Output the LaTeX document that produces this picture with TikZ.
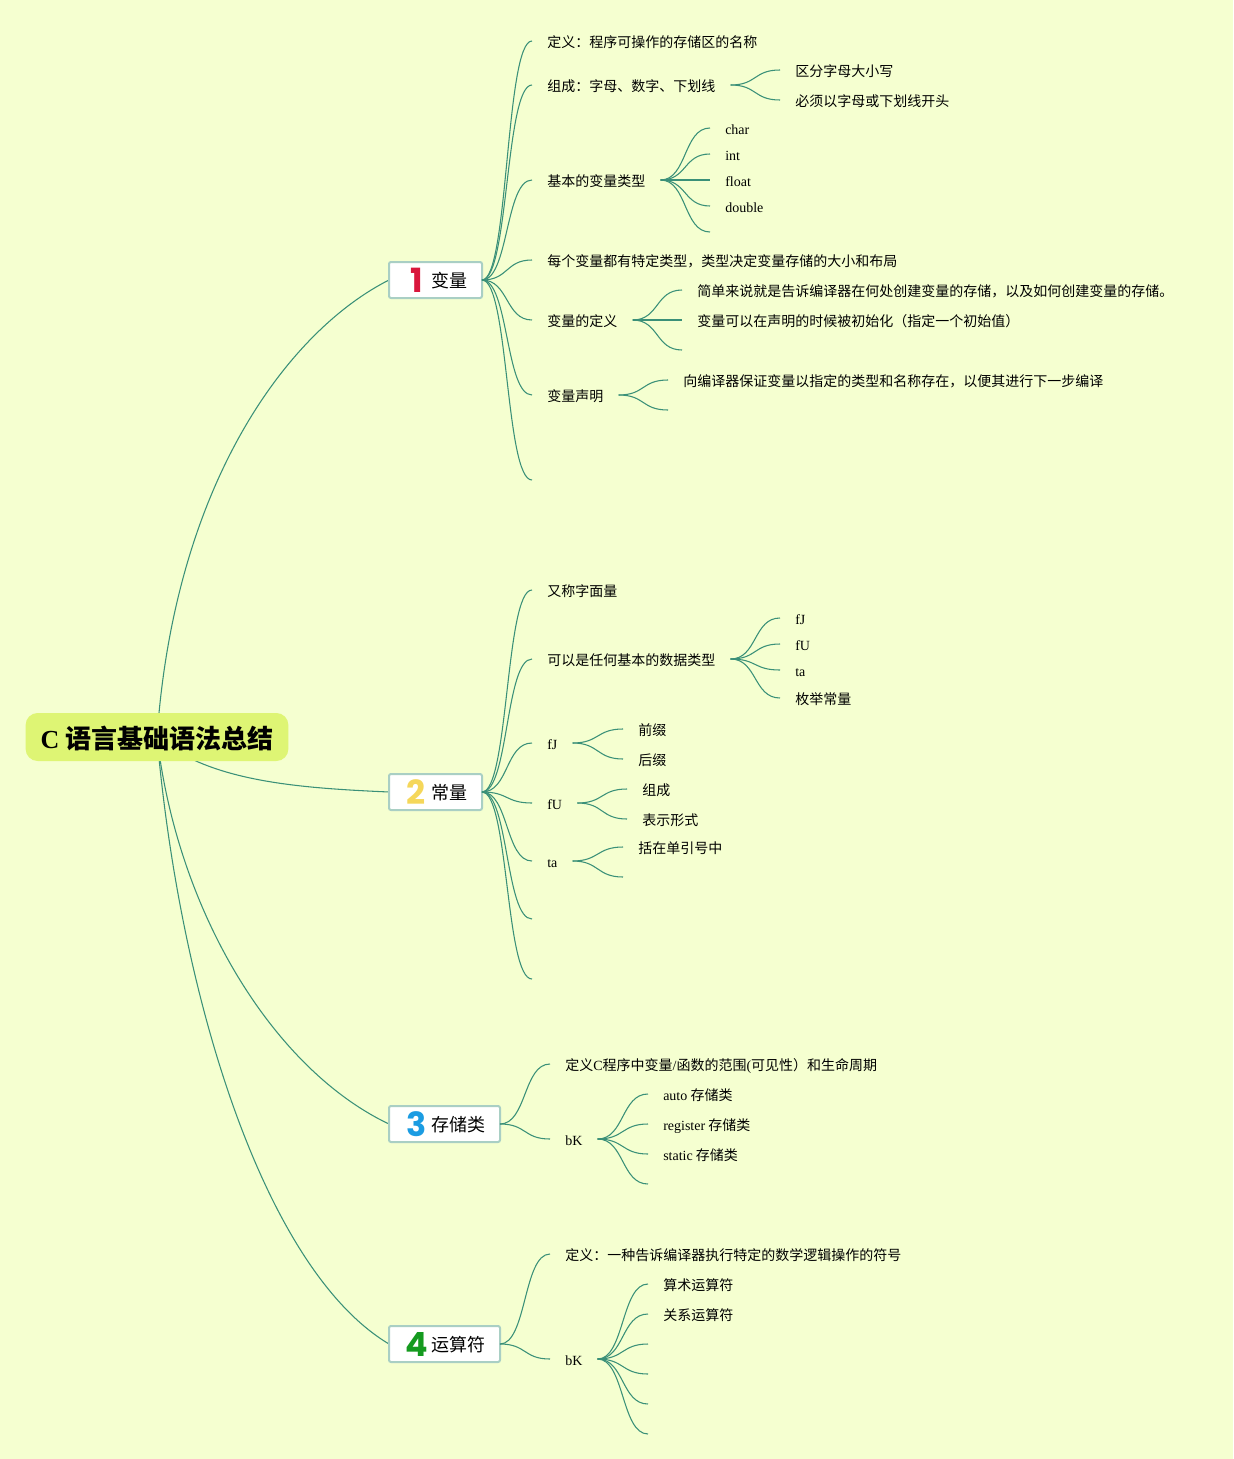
\documentclass[tikz,border=0pt]{standalone}
\usepackage{fontspec}
\setmainfont{Noto Sans CJK SC}
\newfontfamily\lat{Liberation Serif}
\newfontfamily\numfont{Poppins}
\usetikzlibrary{backgrounds}
\definecolor{pagebg}{HTML}{F5FFD0}
\definecolor{rootbg}{HTML}{DEF574}
\definecolor{linkcol}{HTML}{3A9078}
\definecolor{boxline}{HTML}{A9CFC4}
\definecolor{numred}{HTML}{D9173C}
\definecolor{numyellow}{HTML}{F5D75A}
\definecolor{numblue}{HTML}{1B9CE2}
\definecolor{numgreen}{HTML}{159A1F}
\newcommand{\numicon}[2]{\hspace*{1pt}\makebox[16.5pt][c]{\raisebox{-4pt}{\numfont\bfseries\fontsize{25pt}{25pt}\selectfont\color{#1}#2}}\hspace{2.75pt}}

\tikzstyle{root}=[rectangle, rounded corners=9pt, fill=rootbg, inner xsep=11.25pt, inner ysep=0pt, minimum height=36pt, font=\fontsize{19.5pt}{19.5pt}\selectfont\bfseries, text height=17.8pt, text depth=0pt]
\tikzstyle{topic}=[rectangle, rounded corners=1.5pt, draw=boxline, line width=1.5pt, fill=white, anchor=west, outer sep=0pt, inner xsep=11.25pt, inner ysep=0pt, minimum height=27pt, font=\fontsize{13.5pt}{13.5pt}\selectfont, text height=11.2pt, text depth=0pt]
\tikzstyle{leaf}=[anchor=west, inner xsep=11.25pt, inner ysep=0pt, font=\fontsize{10.5pt}{10.5pt}\selectfont, text height=9.5pt, text depth=0pt]
\tikzstyle{link}=[linkcol, line width=0.8pt, out=0, in=180, out distance=20pt, in distance=20pt]
\tikzstyle{rootlink}=[linkcol, line width=0.8pt]

\begin{document}
\begin{tikzpicture}[x=0.75pt, y=-0.75pt]
      \useasboundingbox (0, 0) rectangle (1233, 1459);

      \node[root] (root) at (157, 737) {{\lat C} 语言基础语法总结};
      \node[topic] (var) at (389, 280) {\numicon{numred}{1}变量};
      \node[topic] (con) at (389, 792) {\numicon{numyellow}{2}常量};
      \node[topic] (sto) at (389, 1124) {\numicon{numblue}{3}存储类};
      \node[topic] (ope) at (389, 1344) {\numicon{numgreen}{4}运算符};

      % variables
      \node[leaf] (v1) at (532, 41) {定义：程序可操作的存储区的名称};
      \node[leaf] (v2) at (532, 85) {组成：字母、数字、下划线};
      \node[leaf] (v21) at (780, 70) {区分字母大小写};
      \node[leaf] (v22) at (780, 100) {必须以字母或下划线开头};
      \node[leaf] (v3) at (532, 180) {基本的变量类型};
      \node[leaf] (v31) at (710, 128) {\lat char};
      \node[leaf] (v32) at (710, 154) {\lat int};
      \node[leaf] (v33) at (710, 180) {\lat float};
      \node[leaf] (v34) at (710, 206) {\lat double};
      \coordinate (v35) at (710, 232);
      \node[leaf] (v4) at (532, 260) {每个变量都有特定类型，类型决定变量存储的大小和布局};
      \node[leaf] (v5) at (532, 320) {变量的定义};
      \node[leaf] (v51) at (682, 290) {简单来说就是告诉编译器在何处创建变量的存储，以及如何创建变量的存储。};
      \node[leaf] (v52) at (682, 320) {变量可以在声明的时候被初始化（指定一个初始值）};
      \coordinate (v53) at (682, 350);
      \node[leaf] (v6) at (532, 395) {变量声明};
      \node[leaf] (v61) at (668, 380) {向编译器保证变量以指定的类型和名称存在，以便其进行下一步编译};
      \coordinate (v62) at (668, 410);
      \coordinate (v7) at (532, 480);

      % constants
      \node[leaf] (c1) at (532, 590) {又称字面量};
      \node[leaf] (c2) at (532, 659) {可以是任何基本的数据类型};
      \node[leaf] (c21) at (780, 618) {\lat fJ};
      \node[leaf] (c22) at (780, 644) {\lat fU};
      \node[leaf] (c23) at (780, 670) {\lat ta};
      \node[leaf] (c24) at (780, 698) {枚举常量};
      \node[leaf] (c3) at (532, 743) {\lat fJ};
      \node[leaf] (c31) at (623, 729) {前缀};
      \node[leaf] (c32) at (623, 759) {后缀};
      \node[leaf] (c4) at (532, 803) {\lat fU};
      \node[leaf] (c41) at (627, 789) {组成};
      \node[leaf] (c42) at (627, 819) {表示形式};
      \node[leaf] (c5) at (532, 861) {\lat ta};
      \node[leaf] (c51) at (623, 847) {括在单引号中};
      \coordinate (c52) at (623, 877);
      \coordinate (c6) at (532, 919);
      \coordinate (c7) at (532, 979);

      % storage classes
      \node[leaf] (s1) at (550, 1064) {定义{\lat C}程序中变量{\lat /}函数的范围{\lat (}可见性）和生命周期};
      \node[leaf] (s2) at (550, 1139) {\lat bK};
      \node[leaf] (s21) at (648, 1094) {{\lat auto} 存储类};
      \node[leaf] (s22) at (648, 1124) {{\lat register} 存储类};
      \node[leaf] (s23) at (648, 1154) {{\lat static} 存储类};
      \coordinate (s24) at (648, 1184);

      % operators
      \node[leaf] (o1) at (550, 1254) {定义：一种告诉编译器执行特定的数学逻辑操作的符号};
      \node[leaf] (o2) at (550, 1359) {\lat bK};
      \node[leaf] (o21) at (648, 1284) {算术运算符};
      \node[leaf] (o22) at (648, 1314) {关系运算符};
      \coordinate (o23) at (648, 1344);
      \coordinate (o24) at (648, 1374);
      \coordinate (o25) at (648, 1404);
      \coordinate (o26) at (648, 1434);

      \begin{scope}[on background layer]
        \fill[pagebg] (0, 0) rectangle (1233, 1459);
        \draw[rootlink] (root.center) .. controls (175, 480) and (290, 330) .. (var.west);
        \draw[rootlink] (root.center) .. controls (210, 782) and (300, 788) .. (con.west);
        \draw[rootlink] (root.center) .. controls (178, 915) and (275, 1070) .. (sto.west);
        \draw[rootlink] (root.center) .. controls (180, 1000) and (265, 1270) .. (ope.west);
      \end{scope}

      \foreach \kid in {v1, v2, v3, v4, v5, v6}
        \draw[link] (var.east) to (\kid.west);
      \draw[link] (var.east) to (v7);
      \foreach \kid in {v21, v22}
        \draw[link] (v2.east) to (\kid.west);
      \foreach \kid in {v31, v32, v33, v34}
        \draw[link] (v3.east) to (\kid.west);
      \draw[link] (v3.east) to (v35);
      \foreach \kid in {v51, v52}
        \draw[link] (v5.east) to (\kid.west);
      \draw[link] (v5.east) to (v53);
      \draw[link] (v6.east) to (v61.west);
      \draw[link] (v6.east) to (v62);

      \foreach \kid in {c1, c2, c3, c4, c5}
        \draw[link] (con.east) to (\kid.west);
      \draw[link] (con.east) to (c6);
      \draw[link] (con.east) to (c7);
      \foreach \kid in {c21, c22, c23, c24}
        \draw[link] (c2.east) to (\kid.west);
      \foreach \kid in {c31, c32}
        \draw[link] (c3.east) to (\kid.west);
      \foreach \kid in {c41, c42}
        \draw[link] (c4.east) to (\kid.west);
      \draw[link] (c5.east) to (c51.west);
      \draw[link] (c5.east) to (c52);

      \draw[link] (sto.east) to (s1.west);
      \draw[link] (sto.east) to (s2.west);
      \foreach \kid in {s21, s22, s23}
        \draw[link] (s2.east) to (\kid.west);
      \draw[link] (s2.east) to (s24);

      \draw[link] (ope.east) to (o1.west);
      \draw[link] (ope.east) to (o2.west);
      \foreach \kid in {o21, o22}
        \draw[link] (o2.east) to (\kid.west);
      \foreach \kid in {o23, o24, o25, o26}
        \draw[link] (o2.east) to (\kid);
    \end{tikzpicture}
\end{document}
